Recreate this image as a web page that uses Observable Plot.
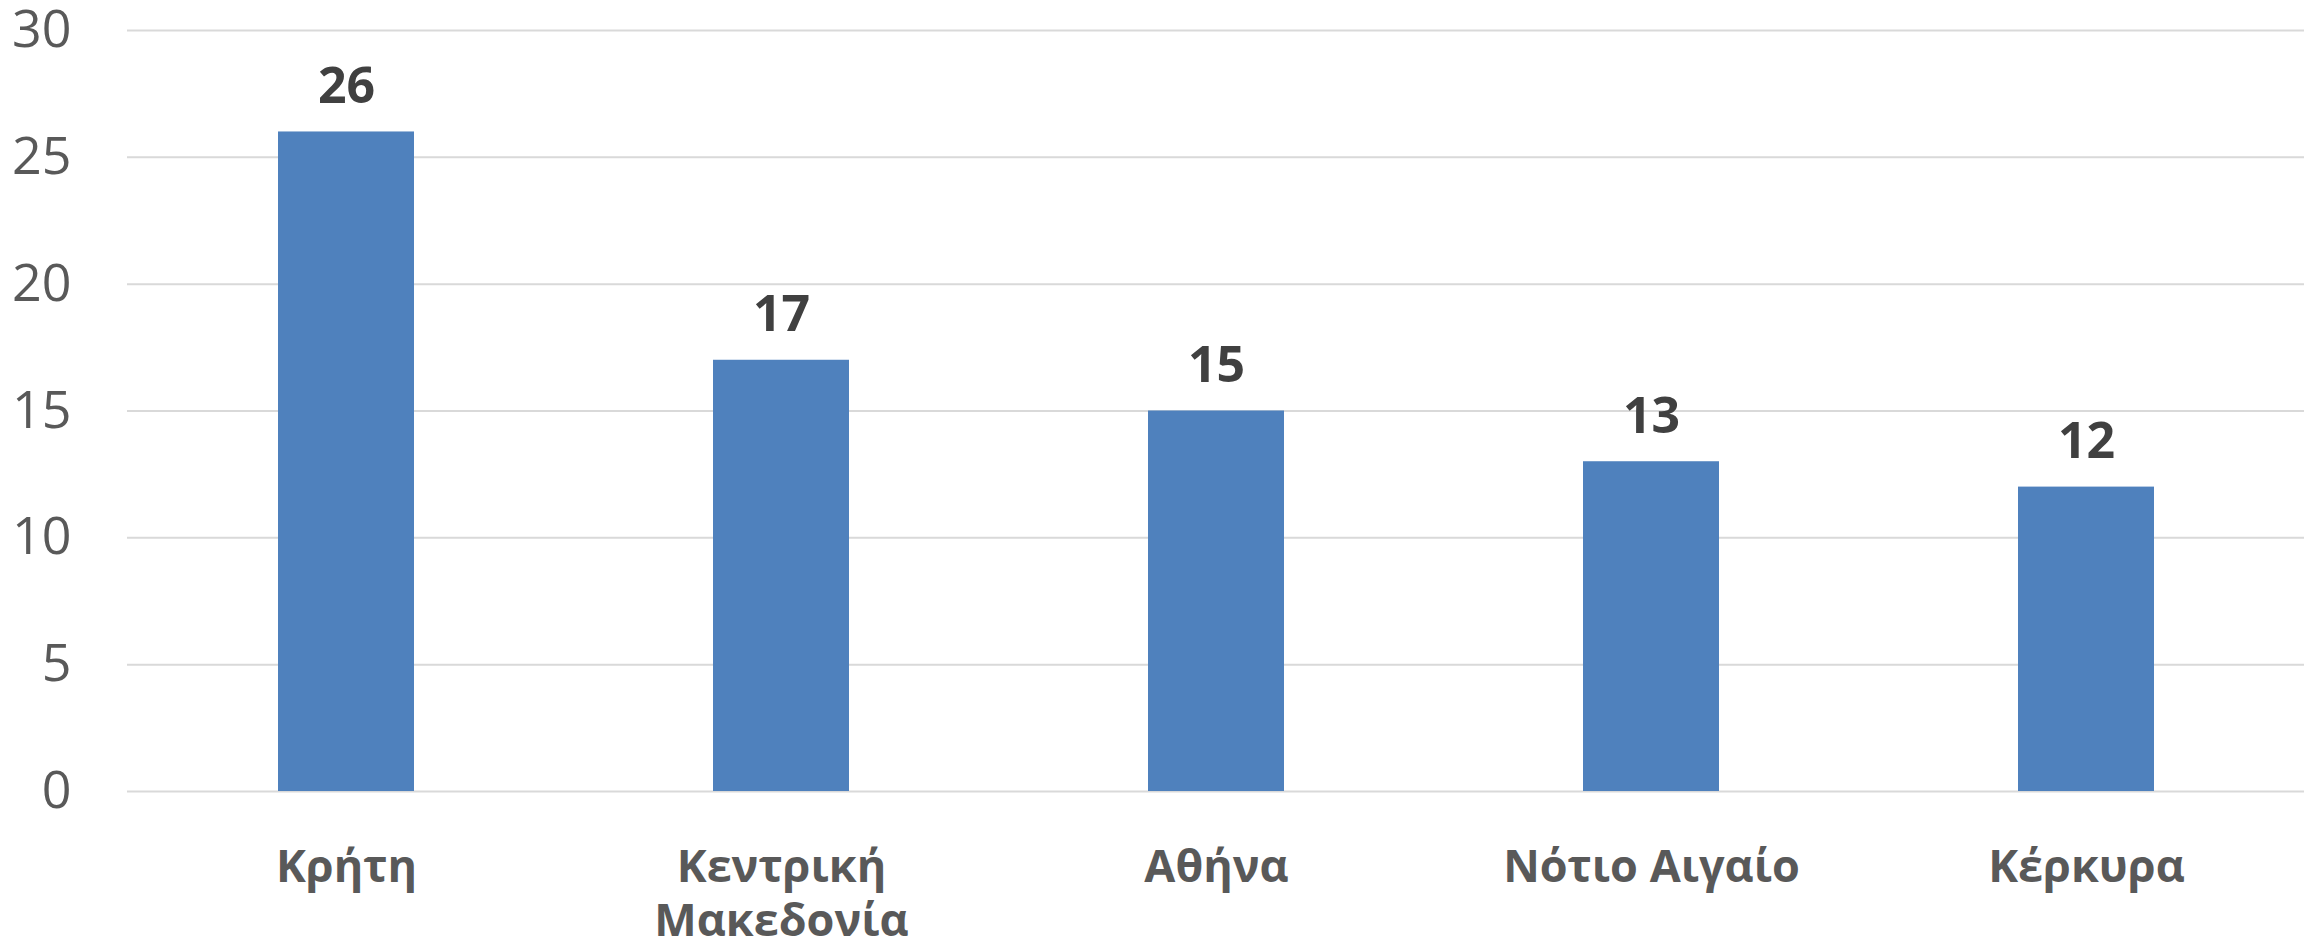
<!DOCTYPE html>
<html>
<head>
<meta charset="utf-8">
<script src="https://cdn.jsdelivr.net/npm/d3@7"></script>
<script src="https://cdn.jsdelivr.net/npm/@observablehq/plot@0.6"></script>
<style>
  html, body { margin: 0; padding: 0; background: #fff; }
  #chart svg { display: block; }
</style>
</head>
<body>
<div id="chart"></div>
<script>
const regions = ["Κρήτη", "Κεντρική\nΜακεδονία", "Αθήνα", "Νότιο Αιγαίο", "Κέρκυρα"];
const counts = [26, 17, 15, 13, 12];
const yTicks = [0, 5, 10, 15, 20, 25, 30];

const data = regions.map((r, i) => ({region: r, value: counts[i]}));

const chart = Plot.plot({
  width: 2313,
  height: 948,
  marginLeft: 127,
  marginRight: 9,
  marginTop: 30,
  marginBottom: 157,
  style: {fontFamily: "'Open Sans', sans-serif", background: "#fff"},
  x: {domain: regions, paddingInner: 0.6875, paddingOuter: 0.34375, label: null},
  y: {domain: [0, 30], label: null},
  marks: [
    Plot.gridY(yTicks, {stroke: "#d9d9d9", strokeOpacity: 1, strokeWidth: 2}),
    Plot.barY(data, {x: "region", y: "value", fill: "#4f81bd"}),
    Plot.text(data, {x: "region", y: "value", text: d => String(d.value), dy: -29, lineAnchor: "bottom",
      fontSize: 50, fontWeight: "bold", fill: "#404040"}),
    Plot.axisY(yTicks, {tickSize: 0, tickPadding: 56, fontSize: 52, fill: "#595959", label: null}),
    Plot.axisX({tickSize: 0, tickPadding: 52, fontSize: 45, fontWeight: "bold", fill: "#595959",
      lineHeight: 1.2, label: null})
  ]
});
document.getElementById("chart").appendChild(chart);
</script>
</body>
</html>
